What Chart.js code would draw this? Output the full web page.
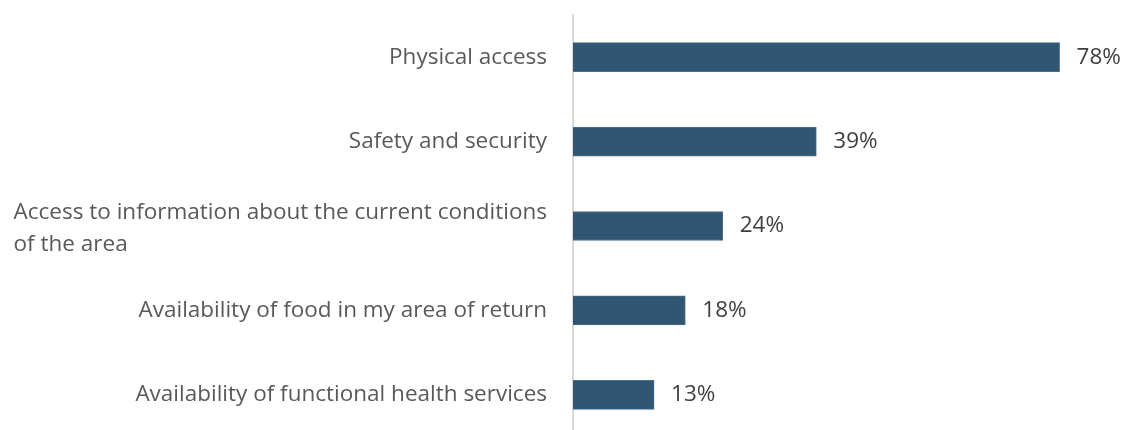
<!DOCTYPE html>
<html>
<head>
<meta charset="utf-8">
<script src="https://cdn.jsdelivr.net/npm/chart.js@4"></script>
<style>
  html, body { margin: 0; padding: 0; background: #ffffff; overflow: hidden; }
  #wrap { width: 1122px; height: 437px; }
</style>
</head>
<body>
<div id="wrap"><canvas id="chart" width="1122" height="437"></canvas></div>
<script>
// Reasons cited for returning (share of respondents, %)
const categories = [
  "Physical access",
  "Safety and security",
  "Access to information about the current conditions of the area",
  "Availability of food in my area of return",
  "Availability of functional health services"
];
// Wrapped lines used when drawing each category label
const categoryLines = [
  ["Physical access"],
  ["Safety and security"],
  ["Access to information about the current conditions", "of the area"],
  ["Availability of food in my area of return"],
  ["Availability of functional health services"]
];
const values = [78, 39, 24, 18, 13];

const FONT = '"Open Sans", "Noto Sans", sans-serif';
const FONT_SIZE = 22.5;

// Draws the category labels (right-aligned block, lines left-aligned inside it)
// and the value labels at the end of each bar.
const labelPlugin = {
  id: 'labels',
  afterDatasetsDraw(chart) {
    const ctx = chart.ctx;
    const yScale = chart.scales.y;
    const meta = chart.getDatasetMeta(0);
    ctx.save();
    ctx.font = FONT_SIZE + 'px ' + FONT;
    ctx.textBaseline = 'middle';
    const rightEdge = 547;
    const lineH = 32;
    categoryLines.forEach((lines, i) => {
      const yc = yScale.getPixelForValue(i);
      const maxW = Math.max(...lines.map(l => ctx.measureText(l).width));
      const x0 = rightEdge - maxW;
      const top = yc - (lines.length - 1) * lineH / 2 + (lines.length > 1 ? 3 : 0);
      ctx.fillStyle = '#595959';
      lines.forEach((l, k) => {
        if (lines.length === 1) {
          ctx.textAlign = 'right';
          ctx.fillText(l, rightEdge, top + k * lineH);
        } else {
          ctx.textAlign = 'left';
          ctx.fillText(l, x0, top + k * lineH);
        }
      });
    });
    ctx.fillStyle = '#404040';
    ctx.textAlign = 'left';
    meta.data.forEach((bar, i) => {
      ctx.fillText(values[i] + '%', bar.x + 17, bar.y);
    });
    ctx.restore();
  }
};

new Chart(document.getElementById('chart'), {
  type: 'bar',
  data: {
    labels: categories,
    datasets: [{
      data: values,
      backgroundColor: '#305672',
      borderColor: '#4a6d88',
      borderWidth: 1,
      borderSkipped: 'start',
      barThickness: 29
    }]
  },
  options: {
    indexAxis: 'y',
    responsive: false,
    animation: false,
    layout: { padding: { left: 565, right: 0, top: 15, bottom: 0 } },
    plugins: {
      legend: { display: false },
      tooltip: { enabled: false }
    },
    scales: {
      x: {
        min: 0,
        max: 88,
        display: false
      },
      y: {
        offset: true,
        grid: { display: false },
        ticks: { display: false },
        border: { display: true, color: '#d9d9d9', width: 2 }
      }
    }
  },
  plugins: [labelPlugin]
});
</script>
</body>
</html>
